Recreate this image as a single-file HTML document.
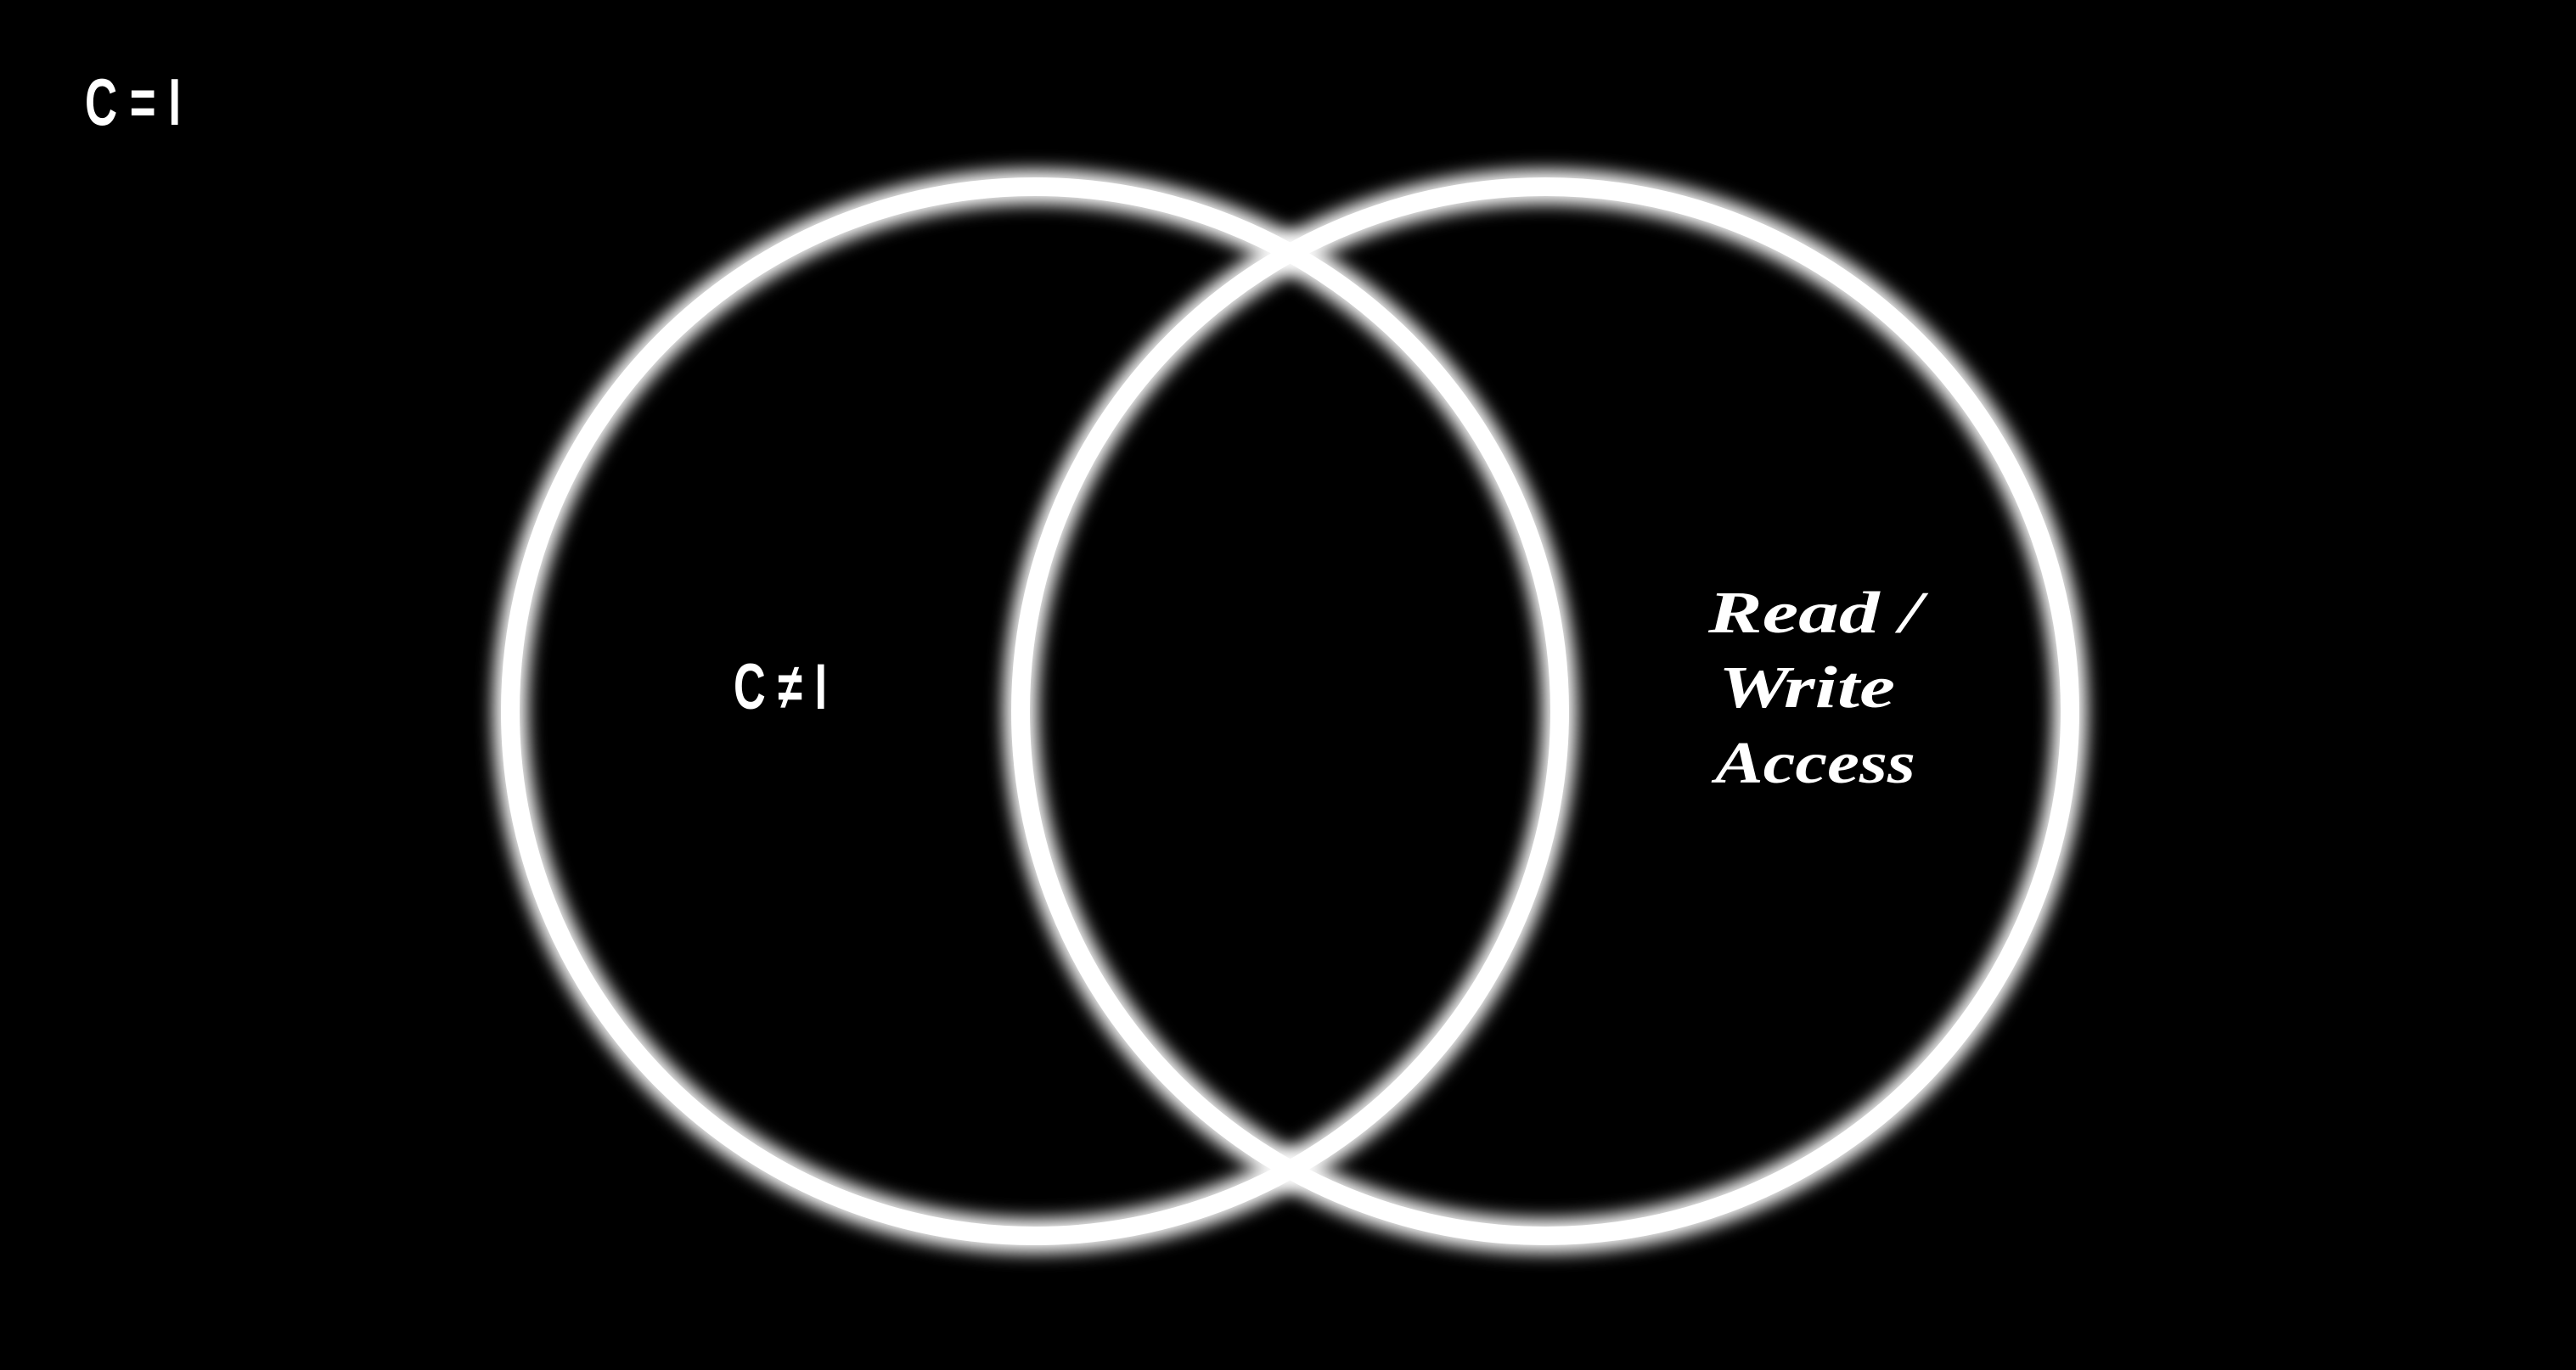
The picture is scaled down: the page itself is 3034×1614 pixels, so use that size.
<!DOCTYPE html>
<html><head><meta charset="utf-8"><style>
html,body{margin:0;padding:0;background:#000;}
svg{display:block;}
</style></head><body>
<svg width="3034" height="1614" viewBox="0 0 3034 1614">
<defs>
<filter id="glow" x="-20%" y="-20%" width="140%" height="140%"><feGaussianBlur stdDeviation="10"/></filter>
</defs>
<rect width="3034" height="1614" fill="#000"/>
<g id="circles"></g>
<text x="100" y="147" fill="#fff" font-family="'Liberation Sans Narrow','Liberation Sans',sans-serif" font-weight="bold" font-size="78" textLength="113" lengthAdjust="spacingAndGlyphs">C = I</text>
<text x="864" y="835" fill="#fff" font-family="'Liberation Sans Narrow','Liberation Sans',sans-serif" font-weight="bold" font-size="76" textLength="110" lengthAdjust="spacingAndGlyphs">C ≠ I</text>
<g fill="#fff" font-family="'Liberation Serif',serif" font-weight="bold" font-style="italic" font-size="70">
<text x="2012" y="745" textLength="252" lengthAdjust="spacingAndGlyphs">Read /</text>
<text x="2024" y="833" textLength="208" lengthAdjust="spacingAndGlyphs">Write</text>
<text x="2020" y="922" textLength="236" lengthAdjust="spacingAndGlyphs">Access</text>
</g>
</svg>
<script>
const setNames = ['left-set','right-set'];
const centersX = [1219, 1820];
const centerY = 838;
const radius = 618;
const g = document.getElementById('circles');
const ns = 'http://www.w3.org/2000/svg';
setNames.forEach((n,i)=>{
  const grp = document.createElementNS(ns,'g');
  
  
  const glow = document.createElementNS(ns,'circle');
  glow.setAttribute('cx', centersX[i]); glow.setAttribute('cy', centerY); glow.setAttribute('r', radius);
  glow.setAttribute('fill','none'); glow.setAttribute('stroke','#fff'); glow.setAttribute('stroke-width','40');
  glow.setAttribute('filter','url(#glow)');
  
  
  const c = document.createElementNS(ns,'circle');
  c.setAttribute('cx', centersX[i]); c.setAttribute('cy', centerY); c.setAttribute('r', radius);
  c.setAttribute('fill','none'); c.setAttribute('stroke','#fff'); c.setAttribute('stroke-width','22');
  
  
  grp.appendChild(glow); grp.appendChild(c);
  g.appendChild(grp);
});
</script>
</body></html>
